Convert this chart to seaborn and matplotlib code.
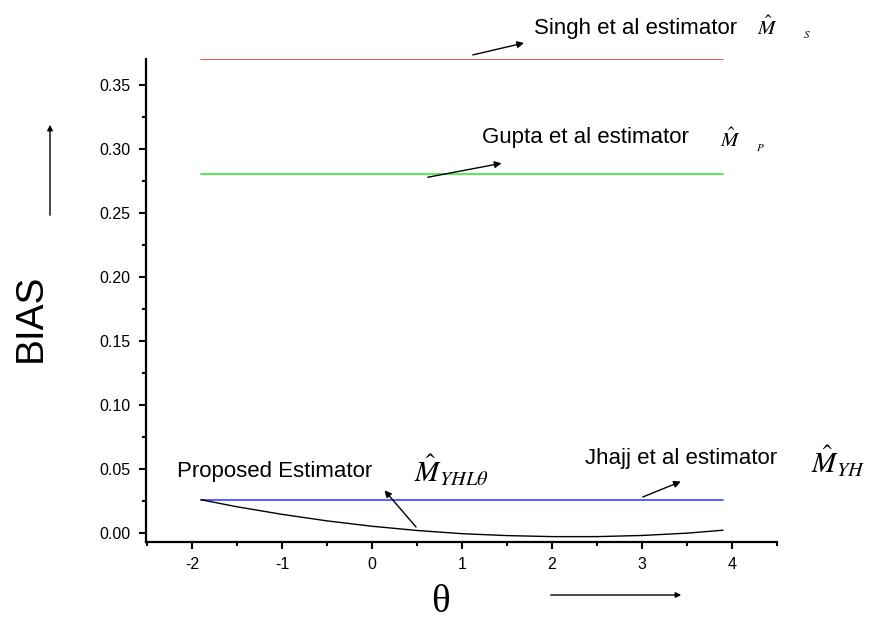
import numpy as np
import pandas as pd
import matplotlib
matplotlib.use("Agg")
import matplotlib.pyplot as plt
import seaborn as sns
from matplotlib.ticker import MultipleLocator

# values
theta = [-1.9, -1.5, -1.0, -0.5, 0.0, 0.5, 1.0, 1.5, 2.0, 2.5, 3.0, 3.5, 3.9]
proposed_bias = [0.0260, 0.0205, 0.0146, 0.0095, 0.0053, 0.0020, -0.0005,
                 -0.0020, -0.0028, -0.0028, -0.0019, -0.0001, 0.0022]
theta_ends = [-1.9, 3.9]
singh_bias = [0.37, 0.37]
gupta_bias = [0.28, 0.28]
jhajj_bias = [0.026, 0.026]

sns.set_style("ticks")
plt.rcParams["font.family"] = ["Liberation Sans", "DejaVu Sans"]
plt.rcParams["mathtext.fontset"] = "stix"
plt.rcParams["axes.unicode_minus"] = False
for k in ["text.color", "axes.labelcolor", "xtick.color", "ytick.color", "axes.edgecolor"]:
    plt.rcParams[k] = "black"

fig = plt.figure(figsize=(8.82, 6.36), dpi=100)
ax = fig.add_axes([146 / 882, 1 - 542 / 636, (777 - 146) / 882, (542 - 59) / 636])

sns.lineplot(x=theta_ends, y=singh_bias, color="#e53935", lw=1.2, ax=ax)
sns.lineplot(x=theta_ends, y=gupta_bias, color="#33ee33", lw=1.2, ax=ax)
sns.lineplot(x=theta_ends, y=jhajj_bias, color="#3344ff", lw=1.2, ax=ax)
sns.lineplot(x=theta, y=proposed_bias, color="black", lw=1.0, ax=ax)

ax.set_xlim(-2.51, 4.5)
ax.set_ylim(-0.007, 0.37)
ax.xaxis.set_major_locator(MultipleLocator(1))
ax.xaxis.set_minor_locator(MultipleLocator(0.5))
ax.yaxis.set_major_locator(MultipleLocator(0.05))
ax.yaxis.set_minor_locator(MultipleLocator(0.025))
ax.yaxis.set_major_formatter(matplotlib.ticker.FormatStrFormatter("%.2f"))
ax.tick_params(which="major", direction="out", length=5, width=1.5, labelsize=11.5, pad=6)
ax.tick_params(which="minor", direction="out", length=3, width=1.5)
for s in ["top", "right"]:
    ax.spines[s].set_visible(False)
for s in ["left", "bottom"]:
    ax.spines[s].set_linewidth(1.6)

arrow = dict(arrowstyle="-|>", color="black", lw=1.0, mutation_scale=10)

# Singh
ax.annotate("", xy=(1.72, 0.383), xytext=(1.09, 0.3727), arrowprops=arrow, annotation_clip=False)
ax.text(1.80, 0.394, "Singh et al estimator", fontsize=16, va="center", ha="left", clip_on=False)
ax.text(4.39, 0.395, r"$\hat{M}$", fontsize=15, va="center", ha="center", clip_on=False)
ax.text(4.83, 0.389, r"$S$", fontsize=8, va="center", ha="center", clip_on=False)

# Gupta
ax.annotate("", xy=(1.47, 0.289), xytext=(0.59, 0.2773), arrowprops=arrow, annotation_clip=False)
ax.text(1.22, 0.309, "Gupta et al estimator", fontsize=16, va="center", ha="left")
ax.text(3.98, 0.307, r"$\hat{M}$", fontsize=15, va="center", ha="center")
ax.text(4.31, 0.301, r"$P$", fontsize=8, va="center", ha="center")

# Proposed
ax.annotate("", xy=(0.12, 0.035), xytext=(0.51, 0.003), arrowprops=arrow)
ax.text(-2.17, 0.048, "Proposed Estimator", fontsize=16, va="center", ha="left")
ax.text(0.47, 0.049, r"$\hat{M}_{YHL\theta}$", fontsize=21, va="center", ha="left")

# Jhajj
ax.annotate("", xy=(3.46, 0.041), xytext=(2.98, 0.0273), arrowprops=arrow)
ax.text(2.37, 0.0585, "Jhajj et al estimator", fontsize=16, va="center", ha="left")
ax.text(4.88, 0.056, r"$\hat{M}_{YH}$", fontsize=21, va="center", ha="left", clip_on=False)

# axis labels with arrows
fig.text(31 / 882, 1 - 318 / 636, "BIAS", rotation=90, fontsize=28, ha="center", va="center")
fig.add_artist(matplotlib.patches.FancyArrowPatch((50 / 882, 1 - 218 / 636), (50 / 882, 1 - 122 / 636),
               transform=fig.transFigure, arrowstyle="-|>", mutation_scale=8, color="black", lw=1.0))
fig.text(440 / 882, 1 - 603 / 636, "θ", fontsize=28, family=["Liberation Serif", "DejaVu Serif"],
         ha="center", va="center")
fig.add_artist(matplotlib.patches.FancyArrowPatch((548 / 882, 1 - 595 / 636), (684 / 882, 1 - 595 / 636),
               transform=fig.transFigure, arrowstyle="-|>", mutation_scale=8, color="black", lw=1.0))

fig.savefig("out.png", dpi=100)
